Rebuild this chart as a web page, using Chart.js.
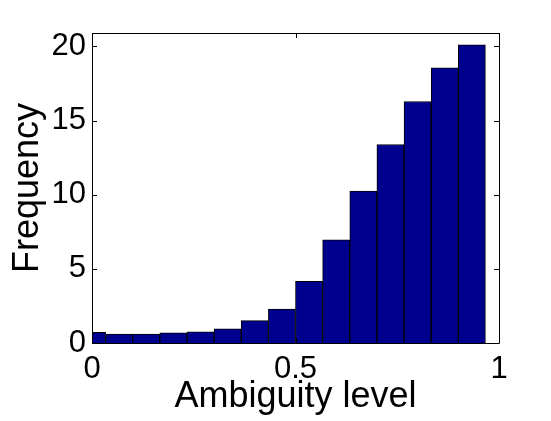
<!DOCTYPE html>
<html>
<head>
<meta charset="utf-8">
<script src="https://cdn.jsdelivr.net/npm/chart.js@4"></script>
<style>
  html, body { margin: 0; padding: 0; background: #fff; }
  #wrap { width: 551px; height: 421px; }
</style>
</head>
<body>
<div id="wrap"><canvas id="histChart"></canvas></div>
<script>
// bin centres (ambiguity level) and counts
var binCenters = [0, 0.0667, 0.1333, 0.2, 0.2667, 0.3333, 0.4, 0.4667, 0.5333, 0.6, 0.6667, 0.7333, 0.8, 0.8667, 0.9333];
var frequency = [0.72, 0.6, 0.6, 0.69, 0.76, 0.96, 1.51, 2.29, 4.15, 6.95, 10.25, 13.38, 16.28, 18.56, 20.11];
var xTicks = [0, 0.5, 1];
var yTicks = [0, 5, 10, 15, 20];

var points = binCenters.map(function (c, i) { return { x: c, y: frequency[i] }; });

// matlab style box with inward ticks on all sides
var boxTicks = {
  id: 'boxTicks',
  afterDraw(chart) {
    const { ctx, chartArea: { left, right, top, bottom }, scales: { x, y } } = chart;
    ctx.save();
    ctx.strokeStyle = '#000';
    ctx.lineWidth = 1;
    ctx.beginPath();
    ctx.rect(Math.round(left) + 0.5, Math.round(top) + 0.5, Math.round(right - left), Math.round(bottom - top));
    ctx.stroke();
    var len = 5;
    ctx.beginPath();
    yTicks.forEach(function (v) {
      var py = Math.round(y.getPixelForValue(v)) + 0.5;
      ctx.moveTo(left, py); ctx.lineTo(left + len, py);
      ctx.moveTo(right, py); ctx.lineTo(right - len, py);
    });
    xTicks.forEach(function (v) {
      var px = Math.round(x.getPixelForValue(v)) + 0.5;
      ctx.moveTo(px, bottom); ctx.lineTo(px, bottom - len);
      ctx.moveTo(px, top); ctx.lineTo(px, top + len);
    });
    ctx.stroke();
    ctx.restore();
  }
};

var ctxHist = document.getElementById('histChart').getContext('2d');
var histChart = new Chart(ctxHist, {
  type: 'bar',
  data: {
    datasets: [{
      data: points,
      backgroundColor: '#00008F',
      borderColor: '#000',
      borderWidth: 1,
      barPercentage: 1,
      categoryPercentage: 1,
      clip: 0
    }]
  },
  options: {
    responsive: true,
    maintainAspectRatio: false,
    animation: false,
    layout: { padding: { top: 33, right: 52, left: 0, bottom: 0 } },
    plugins: { legend: { display: false }, tooltip: { enabled: false } },
    scales: {
      x: {
        type: 'linear',
        min: 0,
        max: 1,
        offset: false,
        grid: { display: false, drawTicks: false },
        border: { display: false },
        afterBuildTicks(scale) { scale.ticks = xTicks.map(function (v) { return { value: v }; }); },
        afterFit(scale) { scale.height = 78; },
        ticks: {
          color: '#000',
          padding: 8,
          maxRotation: 0,
          autoSkip: false,
          font: { family: 'Liberation Sans', size: 31 },
          callback: function (v) { return String(v); }
        },
        title: {
          display: true,
          text: 'Ambiguity level',
          color: '#000',
          padding: { top: 0, bottom: 2 },
          font: { family: 'Liberation Sans', size: 36 }
        }
      },
      y: {
        min: 0,
        max: 20.9,
        grid: { display: false, drawTicks: false },
        border: { display: false },
        afterBuildTicks(scale) { scale.ticks = yTicks.map(function (v) { return { value: v }; }); },
        afterFit(scale) { scale.width = 92; },
        ticks: {
          color: '#000',
          padding: 6,
          autoSkip: false,
          font: { family: 'Liberation Sans', size: 31 },
          callback: function (v) { return String(v); }
        },
        title: {
          display: true,
          text: 'Frequency',
          color: '#000',
          padding: { top: 6, bottom: 0 },
          font: { family: 'Liberation Sans', size: 36 }
        }
      }
    }
  },
  plugins: [boxTicks]
});
</script>
</body>
</html>
